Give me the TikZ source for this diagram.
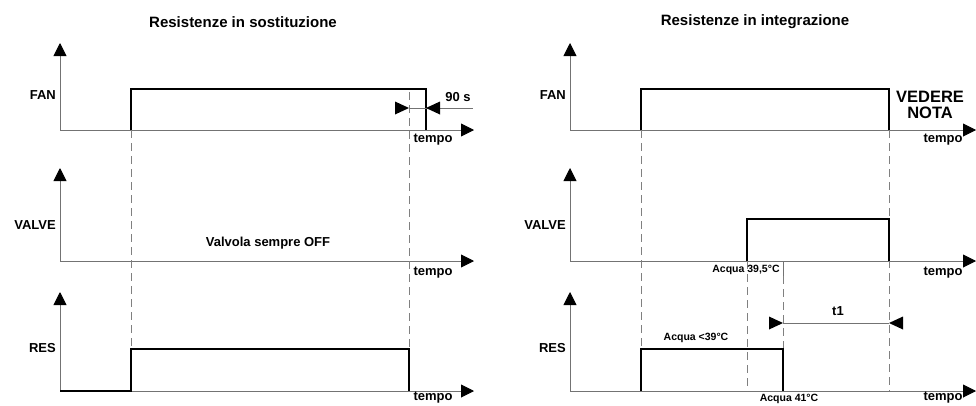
\documentclass[tikz,border=0pt]{standalone}
\usepackage{fontspec}
\setmainfont{Liberation Sans}
\usetikzlibrary{arrows.meta}
\begin{document}
\begin{tikzpicture}[x=1pt,y=-1pt,
  axis/.style={draw=black!55,line width=0.9pt,-{Triangle[length=13pt,width=13pt,color=black]}},
  sig/.style={draw=black,line width=2.2pt,line join=miter},
  dash line/.style={draw=black!50,line width=0.9pt,dash pattern=on 8pt off 5pt},
  dimline/.style={draw=black!55,line width=0.8pt},
  lbl/.style={font=\fontsize{13}{15}\selectfont\bfseries,inner sep=0pt},
  small/.style={font=\fontsize{10.5}{12}\selectfont\bfseries,inner sep=0pt},
  ttl/.style={font=\fontsize{15}{18}\selectfont\bfseries,inner sep=0pt}]
\useasboundingbox (0,0) rectangle (976,405);
% ---------- titles ----------
\node[ttl] (t1L) at (243,22) {Resistenze in sostituzione};
\node[ttl] (t1R) at (755,22) {Resistenze in integrazione};
% ---------- left diagram ----------
\foreach \ya/\yt/\n in {130/43/a,261/168/b,391/292/c}{
  \coordinate (L\n0) at (60,\ya);
  \coordinate (L\n1) at (60,\yt);
  \coordinate (L\n2) at (474,\ya);
  \draw[axis] (L\n0) -- (L\n1);
  \draw[axis] (L\n0) -- (L\n2);
}
\node[lbl,anchor=east] (LFAN) at (56,95) {FAN};
\node[lbl,anchor=east] (LVALVE) at (56,225) {VALVE};
\node[lbl,anchor=east] (LRES) at (56,348) {RES};
\node[lbl] (Ltp1) at (433,140) {tempo};
\node[lbl] (Ltp2) at (433,273) {tempo};
\node[lbl] (Ltp3) at (433,398) {tempo};
\node[lbl] (Lvalv) at (268,243) {Valvola sempre OFF};
% dashed guides
\draw[dash line] (131,130) -- (131,349);
\draw[dash line] (409,92) -- (409,349);
% signals
\draw[sig] (131,130) -- (131,89) -- (426,89) -- (426,130);
\draw[sig] (60,391) -- (131,391) -- (131,349) -- (409,349) -- (409,391);
% 90 s dimension
\coordinate (d1b) at (409,108);
\coordinate (d2b) at (426,108);
\coordinate (d2c) at (473,108);
\draw[dimline] (d1b) -- (d2c);
\fill ([shift={(-14,-6.5)}]d1b) -- (d1b) -- ([shift={(-14,6.5)}]d1b) -- cycle;
\fill ([shift={(14,-6.5)}]d2b) -- (d2b) -- ([shift={(14,6.5)}]d2b) -- cycle;
\node[lbl] (n90) at (458,97) {90 s};
% ---------- right diagram ----------
\foreach \ya/\yt/\n in {130/43/a,261/168/b,391/292/c}{
  \coordinate (R\n0) at (570,\ya);
  \coordinate (R\n1) at (570,\yt);
  \coordinate (R\n2) at (976,\ya);
  \draw[axis] (R\n0) -- (R\n1);
  \draw[axis] (R\n0) -- (R\n2);
}
\node[lbl,anchor=east] (RFAN) at (566,95) {FAN};
\node[lbl,anchor=east] (RVALVE) at (566,225) {VALVE};
\node[lbl,anchor=east] (RRES) at (566,348) {RES};
\node[lbl] (Rtp1) at (943,140) {tempo};
\node[lbl] (Rtp2) at (943,273) {tempo};
\node[lbl] (Rtp3) at (943,398) {tempo};
\node[font=\fontsize{16.5}{16}\selectfont\bfseries,inner sep=0pt,align=center] (nota) at (930,105) {VEDERE\\NOTA};
% dashed guides
\draw[dash line] (641,130) -- (641,349);
\draw[dash line] (889,130) -- (889,391);
\draw[dash line] (747,261) -- (747,391);
\draw[dimline] (783,261) -- (783,276);
\draw[dash line] (783,276) -- (783,349);
% signals
\draw[sig] (641,130) -- (641,89) -- (889,89) -- (889,130);
\draw[sig] (747,261) -- (747,219) -- (889,219) -- (889,261);
\draw[sig] (641,391) -- (641,349) -- (783,349) -- (783,391);
% labels
\node[small] (a395) at (746,270) {Acqua 39,5°C};
\node[small] (a39) at (696,338) {Acqua <39°C};
\node[small] (a41) at (789,399) {Acqua 41°C};
% t1 dimension
\coordinate (e1b) at (783,323);
\coordinate (e2b) at (889,323);
\draw[dimline] (e1b) -- (e2b);
\fill ([shift={(-14,-6.5)}]e1b) -- (e1b) -- ([shift={(-14,6.5)}]e1b) -- cycle;
\fill ([shift={(14,-6.5)}]e2b) -- (e2b) -- ([shift={(14,6.5)}]e2b) -- cycle;
\node[lbl] (nt1) at (838,311) {t1};
\end{tikzpicture}
\end{document}
